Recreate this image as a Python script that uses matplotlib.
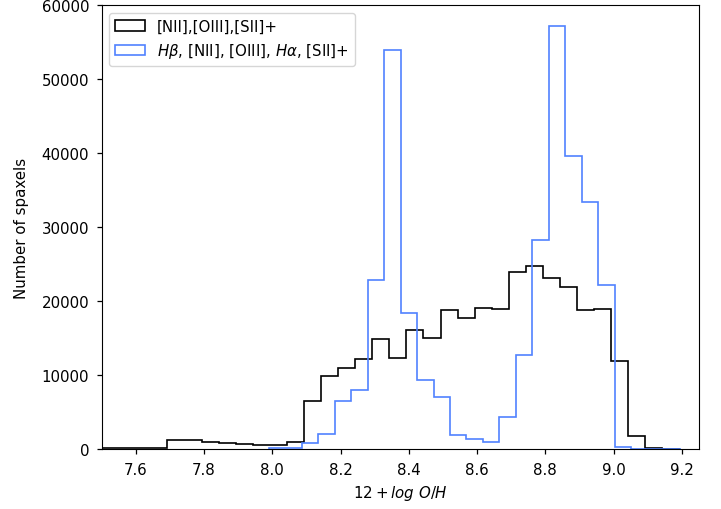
import numpy as np
import matplotlib
matplotlib.use("Agg")
import matplotlib.pyplot as plt

# Bin edges
edges_strong = np.round(7.443 + 0.05 * np.arange(36), 4)
edges_all = np.round(7.9894 + 0.0483 * np.arange(26), 4)

# Counts per bin: [NII],[OIII],[SII]+
counts_strong = [
    150, 150, 150, 150, 150, 1260, 1240, 990, 810, 680,
    540, 520, 990, 6530, 9820, 10950, 12160, 14860, 12260, 16040,
    14960, 18740, 17660, 19090, 18920, 23960, 24770, 23070, 21930, 18780,
    18920, 11930, 1760, 150, 60,
]

# Counts per bin: Hb, [NII], [OIII], Ha, [SII]+
counts_all = [
    100, 200, 750, 2030, 6530, 7970, 22840, 53900, 18340, 9320,
    6990, 1890, 1350, 900, 4280, 12700, 28240, 57200, 39630, 33420,
    22200, 280, 30, 10, 5,
]

label_strong = "[NII],[OIII],[SII]+"
label_all = r"$H\beta$, [NII], [OIII], $H\alpha$, [SII]+"

fig = plt.figure(figsize=(7.21, 5.10), dpi=100)
ax = fig.add_axes([0.1408, 0.1176, 0.8287, 0.8706])

centers_strong = 0.5 * (edges_strong[:-1] + edges_strong[1:])
centers_all = 0.5 * (edges_all[:-1] + edges_all[1:])

ax.hist(centers_strong, bins=edges_strong, weights=counts_strong,
        histtype="step", color="black", linewidth=1.2, label=label_strong)
ax.hist(centers_all, bins=edges_all, weights=counts_all,
        histtype="step", color="#5082ff", linewidth=1.2, label=label_all)

ax.set_xlim(7.5, 9.25)
ax.set_ylim(0, 60000)
ax.tick_params(labelsize=10.8, length=3.8, width=0.9)
ax.tick_params(axis="x", pad=5.2)
ax.tick_params(axis="y", pad=5.0)
ax.set_xlabel(r"$12 + log\ O/H$", fontsize=10.8, labelpad=5)
ax.set_ylabel("Number of spaxels", fontsize=10.8, labelpad=9)
ax.legend(loc="upper left", fontsize=10.8)

fig.savefig("out.png", dpi=100)
